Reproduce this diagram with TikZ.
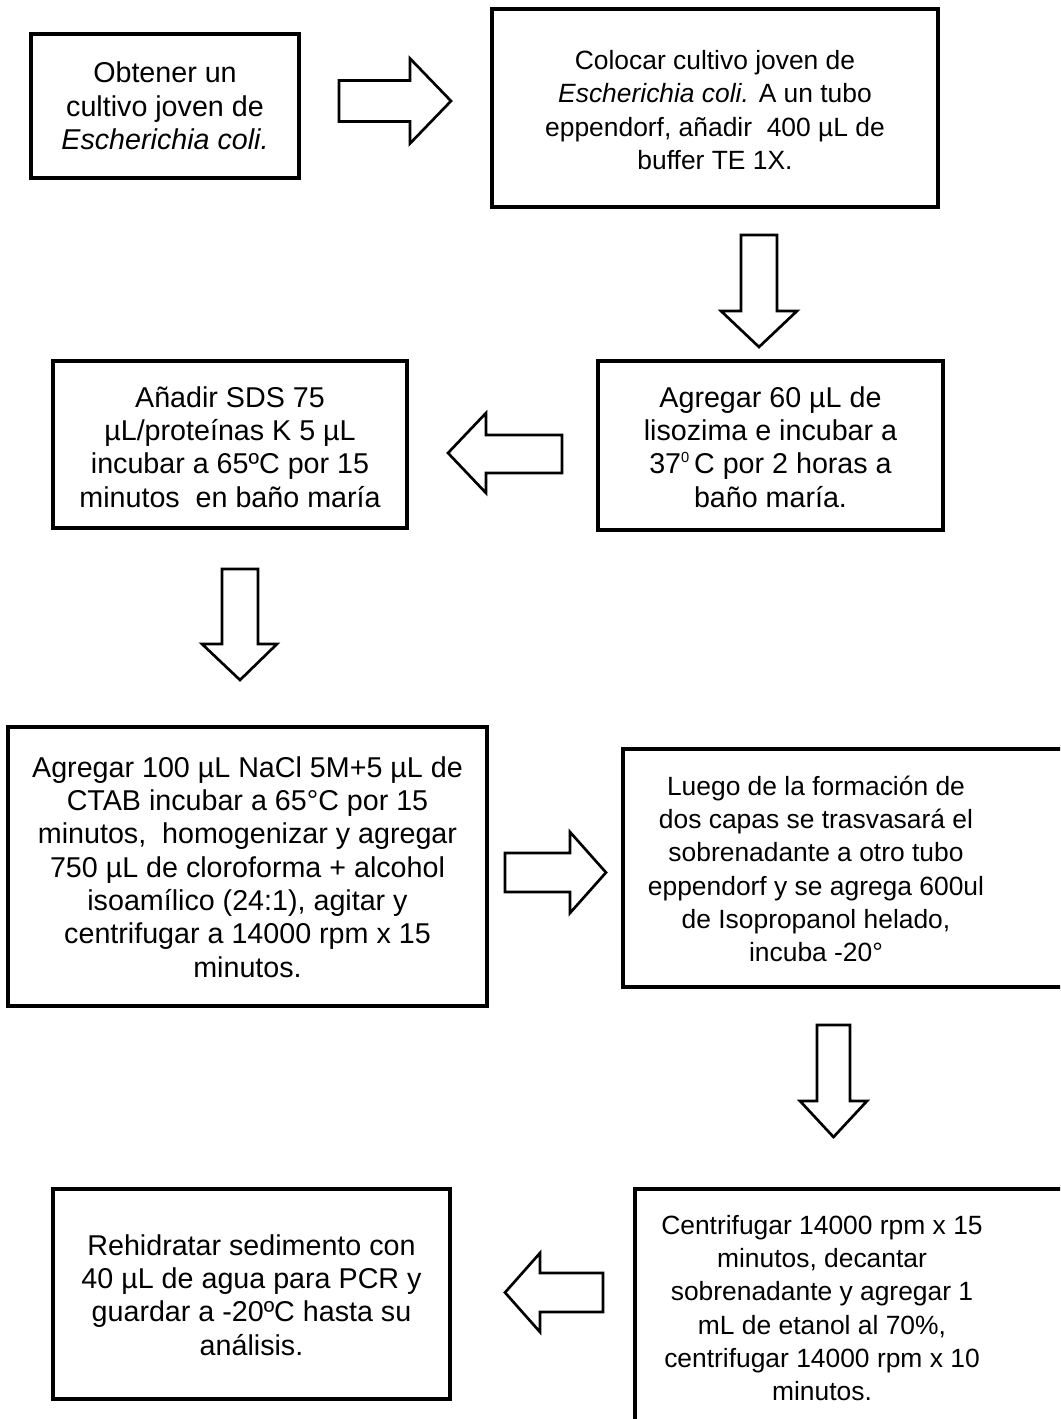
\documentclass[tikz,border=0pt]{standalone}
\usepackage{fontspec}
\setmainfont{Liberation Sans}
\begin{document}
\begin{tikzpicture}[x=0.75pt,y=-0.75pt,
  box/.style={draw, line width=2.5pt, inner sep=0pt, fill=white},
  txt/.style={align=center, font=\fontsize{21.5}{25}\selectfont, inner sep=0pt},
  txtsmall/.style={align=center, font=\fontsize{19.8}{25}\selectfont, inner sep=0pt},
  barrow/.style={draw, line width=2pt, line join=miter, fill=white}]
\clip (0,0) rectangle (1060,1419);
\fill[white] (0,0) rectangle (1060,1419);
% boxes
\node[box, minimum width=201pt, minimum height=108pt] (b1) at (165,106) {};
\node[txt] (t1) at (b1.center) {Obtener un\\cultivo joven de\\\textit{Escherichia coli.}};
\node[box, minimum width=334.5pt, minimum height=148.5pt] (b2) at (715,108) {};
\node[txtsmall] (t2) at (715,110) {Colocar cultivo joven de\\\textit{Escherichia coli.} A un tubo\\eppendorf, añadir~ 400 µL de\\buffer TE 1X.};
\node[box, minimum width=258.75pt, minimum height=126.75pt] (b3) at (770.5,445.5) {};
\node[txt] (t3) at (770.5,447) {Agregar 60 µL de\\lisozima e incubar a\\37\raisebox{8.5pt}{\fontsize{11}{11}\selectfont 0}\,C por 2 horas a\\baño maría.};
\node[box, minimum width=265.5pt, minimum height=125.25pt] (b4) at (230,444.5) {};
\node[txt] (t4) at (230,447) {Añadir SDS 75\\µL/proteínas K 5 µL\\incubar a 65ºC por 15\\minutos~ en baño maría};
\node[box, minimum width=359.25pt, minimum height=209.25pt] (b5) at (247.5,866.5) {};
\node[txt] (t5) at (247.5,867) {Agregar 100 µL NaCl 5M+5 µL de\\CTAB incubar a 65°C por 15\\minutos,~ homogenizar y agregar\\750 µL de cloroforma + alcohol\\isoamílico (24:1), agitar y\\centrifugar a 14000 rpm x 15\\minutos.};
\node[box, minimum width=339pt, minimum height=178.5pt] (b6) at (849,868) {};
\node[txtsmall] (t6) at (816,869) {Luego de la formación de\\dos capas se trasvasará el\\sobrenadante a otro tubo\\eppendorf y se agrega 600ul\\de Isopropanol helado,\\incuba -20°};
\node[box, minimum width=297.75pt, minimum height=157.5pt] (b7) at (251.5,1294) {};
\node[txt] (t7) at (251.5,1295) {Rehidratar sedimento con\\40 µL de agua para PCR y\\guardar a -20ºC hasta su\\análisis.};
\node[box, minimum width=330pt, minimum height=188.25pt] (b8) at (855,1314.5) {};
\node[txtsmall] (t8) at (822,1308) {Centrifugar 14000 rpm x 15\\minutos, decantar\\sobrenadante y agregar 1\\mL de etanol al 70\%,\\centrifugar 14000 rpm x 10\\minutos.};
% block arrows
\draw[barrow] (339,80.5)--(410,80.5)--(410,58.5)--(451,101)--(410,143.5)--(410,121.5)--(339,121.5)--cycle;
\draw[barrow] (741,235)--(777,235)--(777,311)--(797,311)--(759,347)--(721,311)--(741,311)--cycle;
\draw[barrow] (562,435)--(486,435)--(486,413)--(448,453)--(486,493)--(486,473)--(562,473)--cycle;
\draw[barrow] (222,569)--(258,569)--(258,644)--(277,644)--(240,680)--(202,644)--(222,644)--cycle;
\draw[barrow] (505,853)--(570,853)--(570,832)--(606,872.5)--(570,913)--(570,892)--(505,892)--cycle;
\draw[barrow] (817,1025)--(850,1025)--(850,1101)--(867,1101)--(833.5,1137)--(800,1101)--(817,1101)--cycle;
\draw[barrow] (603,1273)--(540,1273)--(540,1253)--(505,1292.5)--(540,1332)--(540,1312)--(603,1312)--cycle;
\end{tikzpicture}
\end{document}
